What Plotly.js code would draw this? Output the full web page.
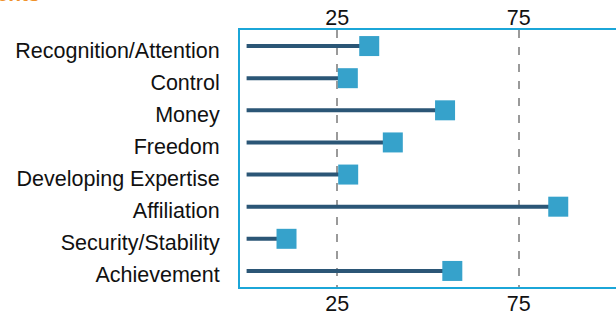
<!DOCTYPE html>
<html>
<head>
<meta charset="utf-8">
<script src="https://cdn.plot.ly/plotly-3.0.1.min.js"></script>
<style>
html, body { margin: 0; padding: 0; overflow: hidden; background: #fff; }
#chart { width: 640px; height: 316px; }
</style>
</head>
<body>
<div id="chart"></div>
<script>
// Data
var categories = ["Recognition/Attention", "Control", "Money", "Freedom",
                  "Developing Expertise", "Affiliation", "Security/Stability", "Achievement"];
var scores = [33.8, 27.9, 54.7, 40.3, 28.0, 85.9, 11.0, 56.7];
var tickValues = [25, 75];
var tickLabels = ["25", "75"];
var titleText = "Motivational Elements";

// Build stems (0 -> score) separated by nulls
var stemX = [], stemY = [];
for (var i = 0; i < categories.length; i++) {
  stemX.push(0, scores[i], null);
  stemY.push(categories[i], categories[i], null);
}

var xRange = [-1.82, 102.92];
var font = { family: "Liberation Sans, Arial, sans-serif", size: 21.5, color: "#111111" };

var traces = [
  {
    type: "scatter", mode: "lines", x: stemX, y: stemY,
    line: { color: "#2b5676", width: 4 }, hoverinfo: "skip", showlegend: false
  },
  {
    type: "scatter", mode: "markers", x: scores, y: categories, xaxis: "x2",
    marker: { symbol: "square", size: 20, color: "#36a2cb", line: { width: 0 } },
    showlegend: false
  }
];

var layout = {
  width: 640, height: 316,
  margin: { l: 240, r: 20, t: 30, b: 29, pad: 0 },
  paper_bgcolor: "#fff", plot_bgcolor: "#fff",
  font: font,
  showlegend: false,
  xaxis: {
    range: xRange, tickmode: "array", tickvals: tickValues, ticktext: tickLabels,
    showgrid: true, gridcolor: "#9a9a9a", gridwidth: 2, griddash: "8px,9px",
    zeroline: false, showline: true, mirror: true, linecolor: "#1ba6d8", linewidth: 2,
    ticks: "", ticklabelstandoff: -4, tickfont: font, side: "bottom", fixedrange: true
  },
  xaxis2: {
    range: xRange, overlaying: "x", side: "top", tickmode: "array",
    tickvals: tickValues, ticktext: tickLabels, showgrid: false, zeroline: false,
    showline: false, ticks: "", tickfont: font, fixedrange: true
  },
  yaxis: {
    type: "category", categoryorder: "array", categoryarray: categories,
    range: [categories.length - 0.5, -0.5], autorange: false,
    showgrid: false, zeroline: false,
    showline: true, mirror: true, linecolor: "#1ba6d8", linewidth: 2,
    ticks: "outside", ticklen: 14, tickcolor: "rgba(0,0,0,0)",
    ticklabelshift: -4,
    tickfont: font, fixedrange: true
  },
  annotations: [{
    xref: "paper", yref: "paper", x: (42 - 240) / 380, y: 1 + (30 - 7) / 257,
    xanchor: "right", yanchor: "bottom", showarrow: false,
    text: "<b>" + titleText + "</b>",
    font: { family: "Liberation Sans, Arial, sans-serif", size: 21, color: "#f0922b" }
  }]
};

Plotly.newPlot("chart", traces, layout, { displayModeBar: false, staticPlot: true });
</script>
</body>
</html>
